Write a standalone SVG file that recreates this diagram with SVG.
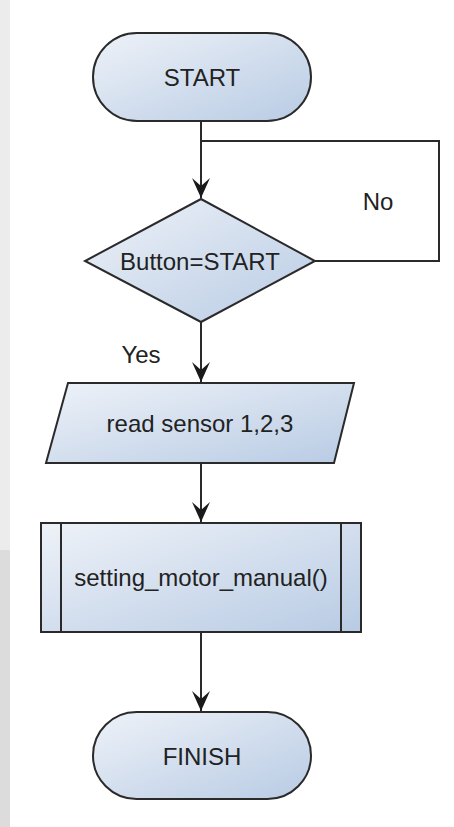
<svg xmlns="http://www.w3.org/2000/svg" width="454" height="827" viewBox="0 0 454 827">
  <defs>
    <linearGradient id="fill" x1="0" y1="0" x2="1" y2="1">
      <stop offset="0" stop-color="#eef2f8"/>
      <stop offset="1" stop-color="#b8cbe4"/>
    </linearGradient>
    <marker id="arr" markerUnits="userSpaceOnUse" markerWidth="22" markerHeight="24" refX="20" refY="10" orient="auto" viewBox="0 0 22 20">
      <path d="M0,1 L20,10 L0,19 L8,10 Z" fill="#1a1a1a"/>
    </marker>
    <style>
      .shape { fill: url(#fill); stroke: #2a2a2a; stroke-width: 2; }
      .line { fill: none; stroke: #2a2a2a; stroke-width: 2; }
      .lbl { font-family: "Liberation Sans", Arial, sans-serif; font-size: 24px; fill: #222; text-anchor: middle; }
    </style>
  </defs>
  <rect width="454" height="827" fill="#ffffff"/>
  <rect x="0" y="0" width="10" height="827" fill="#ececec"/>
  <rect x="0" y="550" width="10" height="277" fill="#dcdcdc"/>

  <g id="connectors">
    <line class="line" x1="201" y1="121" x2="201" y2="198" marker-end="url(#arr)"/>
    <polyline class="line" points="315,261 439,261 439,141 201,141"/>
    <line class="line" x1="201" y1="322" x2="201" y2="382" marker-end="url(#arr)"/>
    <line class="line" x1="201" y1="463" x2="201" y2="522" marker-end="url(#arr)"/>
    <line class="line" x1="201" y1="632" x2="201" y2="711" marker-end="url(#arr)"/>
    <text class="lbl" x="378" y="210">No</text>
    <text class="lbl" x="141" y="363">Yes</text>
  </g>

  <g id="start">
    <rect class="shape" x="93" y="33" width="218" height="88" rx="44" ry="44"/>
    <text class="lbl" x="202" y="86">START</text>
  </g>

  <g id="decision">
    <polygon class="shape" points="201,199 315,261 201,322 85,261"/>
    <text class="lbl" x="200" y="270">Button=START</text>
  </g>

  <g id="read">
    <polygon class="shape" points="68,383 354,383 334,463 46,463"/>
    <text class="lbl" x="200" y="432">read sensor 1,2,3</text>
  </g>

  <g id="subprocess">
    <rect class="shape" x="41" y="523" width="320" height="109"/>
    <line class="line" x1="61" y1="523" x2="61" y2="632"/>
    <line class="line" x1="341" y1="523" x2="341" y2="632"/>
    <text class="lbl" x="201" y="586">setting_motor_manual()</text>
  </g>

  <g id="finish">
    <rect class="shape" x="93" y="712" width="218" height="87" rx="43.5" ry="43.5"/>
    <text class="lbl" x="202" y="765">FINISH</text>
  </g>
</svg>
